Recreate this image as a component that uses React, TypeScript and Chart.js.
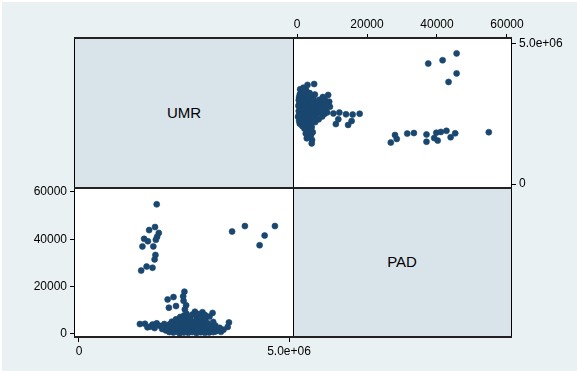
import React, { useEffect, useRef } from "react";
import { Chart, registerables } from "chart.js";

Chart.register(...registerables);

// Variables on the diagonal of the scatter matrix
const variableNames = ["UMR", "PAD"];

// Tick values and labels
const umrTicks = [0, 5000000];
const umrTickLabels = ["0", "5.0e+06"];
const padTicks = [0, 20000, 40000, 60000];
const padTickLabels = ["0", "20000", "40000", "60000"];

// Observations (parallel arrays): UMR and PAD
const umr = [
  // high UMR group
  3.645e6, 3.95e6, 4.42e6, 4.665e6, 4.3e6,
  // high PAD group
  1.85e6, 1.81e6, 1.67e6, 1.9e6, 1.86e6, 1.55e6, 1.64e6, 1.83e6, 1.51e6, 1.77e6,
  1.82e6, 1.8e6, 1.61e6, 1.75e6, 1.48e6,
  // mid PAD arm
  2.51e6, 2.48e6, 2.49e6, 2.55e6, 2.52e6, 2.25e6, 2.11e6, 2.14e6, 2.31e6, 2.76e6,
  3.18e6, 2.94e6,
  // low UMR sparse band
  1.45e6, 1.57e6, 1.63e6, 1.69e6, 1.75e6, 1.85e6, 1.8e6, 1.92e6, 1.98e6, 2.03e6,
  2.07e6, 2.1e6,
  // dense cluster
  2.152e6, 2.146e6, 2.158e6,
  2.203e6, 2.197e6, 2.21e6,
  2.248e6, 2.255e6, 2.243e6,
  2.302e6, 2.296e6, 2.31e6,
  2.353e6, 2.347e6, 2.358e6,
  2.398e6, 2.405e6, 2.392e6, 2.41e6,
  2.452e6, 2.446e6, 2.457e6,
  2.497e6, 2.503e6, 2.495e6, 2.506e6, 2.5e6,
  2.548e6, 2.554e6, 2.545e6, 2.552e6, 2.558e6,
  2.603e6, 2.597e6, 2.606e6, 2.595e6,
  2.652e6, 2.646e6, 2.655e6, 2.649e6,
  2.698e6, 2.704e6, 2.695e6, 2.707e6, 2.701e6,
  2.753e6, 2.747e6, 2.756e6,
  2.797e6, 2.803e6, 2.794e6, 2.806e6, 2.8e6,
  2.852e6, 2.846e6, 2.855e6, 2.849e6,
  2.898e6, 2.904e6, 2.895e6, 2.907e6, 2.901e6,
  2.953e6, 2.947e6, 2.956e6,
  2.997e6, 3.003e6, 2.994e6, 3.006e6, 3.0e6,
  3.052e6, 3.046e6, 3.055e6,
  3.098e6, 3.104e6, 3.095e6, 3.107e6,
  3.152e6, 3.146e6,
  3.198e6, 3.204e6, 3.195e6,
  3.252e6, 3.246e6, 3.28e6,
  // upper end of cluster
  3.35e6, 3.38e6, 3.54e6, 3.57e6, 3.44e6,
];

const pad = [
  // high UMR group
  43300, 45600, 41600, 45600, 37500,
  // high PAD group
  54800, 45200, 43900, 42700, 41100, 40200, 39200, 39800, 37000, 37000,
  33400, 31500, 28500, 28000, 26800,
  // mid PAD arm
  17900, 15900, 14000, 12100, 10400, 15600, 14600, 11100, 11800, 9400,
  8900, 9200,
  // low UMR sparse band
  4200, 4300, 2800, 3100, 4000, 4500, 2500, 3500, 2100, 4200,
  1500, 3000,
  // dense cluster
  800, 2600, 4100,
  1200, 3300, 5200,
  600, 2000, 4500,
  1500, 3000, 6200,
  900, 2400, 3800,
  300, 1800, 5000, 7200,
  1100, 2900, 4300,
  600, 2200, 3600, 5600, 7800,
  1400, 3100, 4800, 6800, 8600,
  500, 2000, 3900, 5900,
  1200, 2700, 4400, 7000,
  800, 2300, 3500, 5300, 8200,
  1600, 3000, 4600,
  400, 2100, 3800, 6100, 7600,
  1300, 2600, 4900, 8400,
  700, 1900, 3300, 5500, 7100,
  1000, 2500, 4200,
  500, 1700, 3000, 6400, 8000,
  1200, 2800, 4700,
  600, 2000, 3500, 7400,
  1500, 3200,
  800, 2400, 5100,
  1100, 3600, 2000,
  // upper end of cluster
  2600, 900, 3000, 4900, 1800,
];

const OUTER_BG = "#eaf1f3";
const DIAG_BG = "#d9e4ea";
const MARKER = "#1a476f";
const FONT_FAMILY = "'Liberation Sans', Arial, Helvetica, sans-serif";

export default function App() {
  const trRef = useRef<HTMLCanvasElement>(null);
  const blRef = useRef<HTMLCanvasElement>(null);

  useEffect(() => {
    const font = { family: FONT_FAMILY, size: 12 };
    const setTicks = (vals: number[]) => (s: any) => {
      s.ticks = vals.map((v) => ({ value: v }));
    };
    const labelCb = (labels: string[]) => (_v: any, i: number) => labels[i];
    const grid = { drawOnChartArea: false, drawTicks: true, tickLength: 5, color: "#000", lineWidth: 1 };
    const ds = (pts: { x: number; y: number }[]) => ({
      data: pts,
      pointRadius: 3,
      pointBorderWidth: 0.6,
      backgroundColor: MARKER,
      borderColor: MARKER,
      pointHoverRadius: 3,
      clip: false as any,
    });
    const common = {
      responsive: false,
      animation: false as const,
      plugins: { legend: { display: false }, tooltip: { enabled: false } },
      events: [] as any[],
    };

    const tr = new Chart(trRef.current!, {
      type: "scatter",
      data: { datasets: [ds(umr.map((u, i) => ({ x: pad[i], y: u })))] },
      options: {
        ...common,
        layout: { padding: { left: 10, top: 0, right: 0, bottom: 12 } },
        scales: {
          x: {
            type: "linear",
            position: "top",
            min: -1143,
            max: 61143,
            afterBuildTicks: setTicks(padTicks),
            afterFit: (s: any) => { s.height = 39; },
            ticks: { callback: labelCb(padTickLabels), font, color: "#000", padding: 2, maxRotation: 0, autoSkip: false },
            grid,
            border: { display: false },
          },
          y: {
            type: "linear",
            position: "right",
            min: -142857,
            max: 5178571,
            afterBuildTicks: setTicks(umrTicks),
            afterFit: (s: any) => { s.width = 66; },
            ticks: { callback: labelCb(umrTickLabels), font, color: "#000", padding: 3, autoSkip: false },
            grid,
            border: { display: false },
          },
        },
      } as any,
    });

    const bl = new Chart(blRef.current!, {
      type: "scatter",
      data: { datasets: [ds(umr.map((u, i) => ({ x: u, y: pad[i] })))] },
      options: {
        ...common,
        layout: { padding: { left: 0, top: 12, right: 27, bottom: 0 } },
        scales: {
          x: {
            type: "linear",
            position: "bottom",
            min: -95238,
            max: 5095238,
            afterBuildTicks: setTicks(umrTicks),
            afterFit: (s: any) => { s.height = 34; },
            ticks: { callback: labelCb(umrTickLabels), font, color: "#000", padding: 2, maxRotation: 0, autoSkip: false },
            grid,
            border: { display: false },
          },
          y: {
            type: "linear",
            position: "left",
            min: -1268,
            max: 61690,
            afterBuildTicks: setTicks(padTicks),
            afterFit: (s: any) => { s.width = 75; },
            ticks: { callback: labelCb(padTickLabels), font, color: "#000", padding: 3, autoSkip: false },
            grid,
            border: { display: false },
          },
        },
      } as any,
    });

    return () => {
      tr.destroy();
      bl.destroy();
    };
  }, []);

  const abs = (l: number, t: number, w: number, h: number, extra: React.CSSProperties = {}): React.CSSProperties => ({
    position: "absolute",
    left: l,
    top: t,
    width: w,
    height: h,
    ...extra,
  });

  const labelStyle: React.CSSProperties = {
    display: "flex",
    alignItems: "center",
    justifyContent: "center",
    fontFamily: FONT_FAMILY,
    fontSize: 15,
    color: "#000",
    paddingBottom: 2,
    boxSizing: "border-box",
  };

  return (
    <div style={{ position: "fixed", left: 0, top: 0, width: 577, height: 371, background: "#fff", overflow: "hidden" }}>
      <div style={abs(2, 2, 575, 369, { background: OUTER_BG })} />
      {/* diagonal panels */}
      <div style={abs(75, 39, 218, 149, { ...labelStyle, background: DIAG_BG })}>{variableNames[0]}</div>
      <div style={abs(293, 188, 218, 149, { ...labelStyle, background: DIAG_BG })}>{variableNames[1]}</div>
      {/* scatter panels background */}
      <div style={abs(293, 39, 218, 149, { background: "#fff" })} />
      <div style={abs(75, 188, 218, 149, { background: "#fff" })} />
      <canvas ref={trRef} width={294} height={200} style={abs(283, 0, 294, 200)} />
      <canvas ref={blRef} width={320} height={195} style={abs(0, 176, 320, 195)} />
      {/* frame lines */}
      <div style={abs(74, 38, 1, 300, { background: "#000" })} />
      <div style={abs(293, 38, 1, 300, { background: "#000" })} />
      <div style={abs(511, 38, 1, 300, { background: "#000" })} />
      <div style={abs(74, 37, 438, 2, { background: "#222" })} />
      <div style={abs(74, 187, 438, 2, { background: "#222" })} />
      <div style={abs(74, 336, 438, 2, { background: "#222" })} />
    </div>
  );
}
